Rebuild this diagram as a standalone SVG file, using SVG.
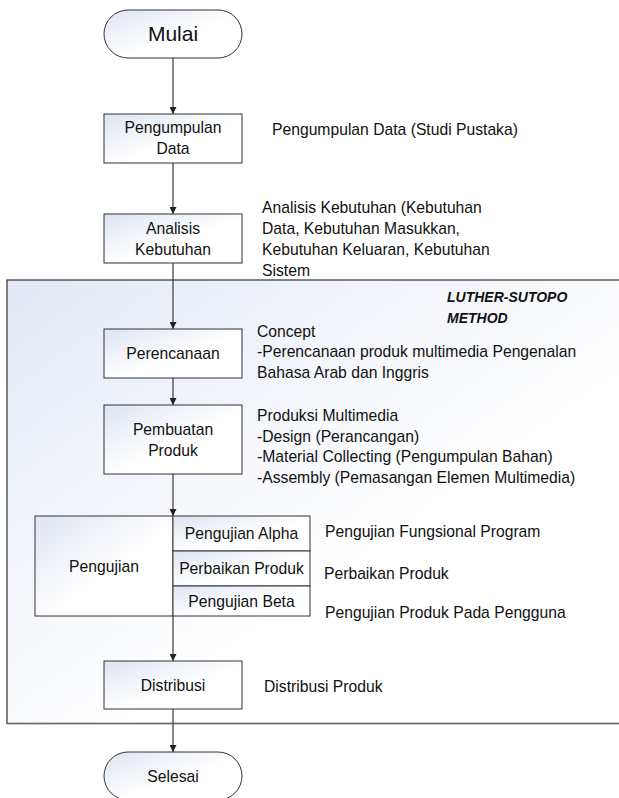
<svg xmlns="http://www.w3.org/2000/svg" width="619" height="798" viewBox="0 0 619 798">
<style>
text{font-family:"Liberation Sans",Arial,sans-serif;font-size:15.7px;fill:#111}
.c{text-anchor:middle}
.box{fill:url(#g);stroke:#333;stroke-width:1}
.con{stroke:#3a3a3a;stroke-width:1.2;fill:none;marker-end:url(#ah)}
.big{font-size:21px}
.bi{font-weight:bold;font-style:italic;font-size:14px}
</style>
<defs>
<linearGradient id="g" x1="0" y1="0" x2="1" y2="1">
<stop offset="0" stop-color="#dde4f2"/>
<stop offset="0.55" stop-color="#ffffff"/>
</linearGradient>
<linearGradient id="gc" x1="0" y1="0" x2="1" y2="1">
<stop offset="0" stop-color="#e3e9f5"/>
<stop offset="0.6" stop-color="#ffffff"/>
</linearGradient>
<marker id="ah" markerUnits="userSpaceOnUse" markerWidth="7" markerHeight="7" refX="7" refY="3.5" orient="auto">
<path d="M0,0 L7,3.5 L0,7 z" fill="#222"/>
</marker>
</defs>

<g id="luther-sutopo">
<rect x="7" y="280" width="630" height="443.5" fill="url(#gc)" stroke="#333" stroke-width="1.2"/>
<line x1="7" y1="723.5" x2="619" y2="723.5" stroke="#6a6a6a" stroke-width="1.6"/>
<text class="bi" x="447" y="302">LUTHER-SUTOPO</text>
<text class="bi" x="447" y="323">METHOD</text>
</g>

<g id="connectors">
<line class="con" x1="173" y1="58" x2="173" y2="114"/>
<line class="con" x1="173" y1="163" x2="173" y2="214"/>
<line class="con" x1="173" y1="263" x2="173" y2="329"/>
<line class="con" x1="173" y1="378" x2="173" y2="405"/>
<line class="con" x1="173" y1="474" x2="173" y2="516"/>
<line class="con" x1="173" y1="616" x2="173" y2="661"/>
<line class="con" x1="173" y1="709" x2="173" y2="752"/>
</g>

<g id="mulai">
<rect class="box" x="104" y="10" width="138" height="48" rx="24" ry="24"/>
<text class="c big" x="173" y="41">Mulai</text>
</g>

<g id="pengumpulan-data">
<rect class="box" x="104" y="114" width="138" height="49"/>
<text class="c" x="173" y="133">Pengumpulan</text>
<text class="c" x="173" y="154">Data</text>
<text x="272" y="135">Pengumpulan Data (Studi Pustaka)</text>
</g>

<g id="analisis-kebutuhan">
<rect class="box" x="104" y="214" width="138" height="49"/>
<text class="c" x="173" y="234">Analisis</text>
<text class="c" x="173" y="255">Kebutuhan</text>
<text x="262" y="213">Analisis Kebutuhan (Kebutuhan</text>
<text x="262" y="234">Data, Kebutuhan Masukkan,</text>
<text x="262" y="255">Kebutuhan Keluaran, Kebutuhan</text>
<text x="262" y="276">Sistem</text>
</g>

<g id="perencanaan">
<rect class="box" x="104" y="329" width="138" height="49"/>
<text class="c" x="173" y="358.5">Perencanaan</text>
<text x="257" y="336.5">Concept</text>
<text x="257" y="357">-Perencanaan produk multimedia Pengenalan</text>
<text x="257" y="377.5">Bahasa Arab dan Inggris</text>
</g>

<g id="pembuatan-produk">
<rect class="box" x="104" y="405" width="138" height="69"/>
<text class="c" x="173" y="435">Pembuatan</text>
<text class="c" x="173" y="456">Produk</text>
<text x="257" y="421">Produksi Multimedia</text>
<text x="257" y="441.5">-Design (Perancangan)</text>
<text x="257" y="462">-Material Collecting (Pengumpulan Bahan)</text>
<text x="257" y="482.5">-Assembly (Pemasangan Elemen Multimedia)</text>
</g>

<g id="pengujian">
<rect class="box" x="35" y="516" width="138" height="100"/>
<rect class="box" x="173" y="516" width="137" height="35"/>
<rect class="box" x="173" y="551" width="137" height="35"/>
<rect class="box" x="173" y="586" width="137" height="30"/>
<text class="c" x="104" y="572">Pengujian</text>
<text class="c" x="241.5" y="539">Pengujian Alpha</text>
<text class="c" x="241.5" y="574">Perbaikan Produk</text>
<text class="c" x="241.5" y="607">Pengujian Beta</text>
<text x="325" y="537">Pengujian Fungsional Program</text>
<text x="324" y="579">Perbaikan Produk</text>
<text x="325" y="618">Pengujian Produk Pada Pengguna</text>
</g>

<g id="distribusi">
<rect class="box" x="104" y="661" width="138" height="48"/>
<text class="c" x="173" y="691">Distribusi</text>
<text x="264" y="692">Distribusi Produk</text>
</g>

<g id="selesai">
<rect class="box" x="104" y="752" width="138" height="48" rx="24" ry="24"/>
<text class="c" x="173" y="782">Selesai</text>
</g>
</svg>
